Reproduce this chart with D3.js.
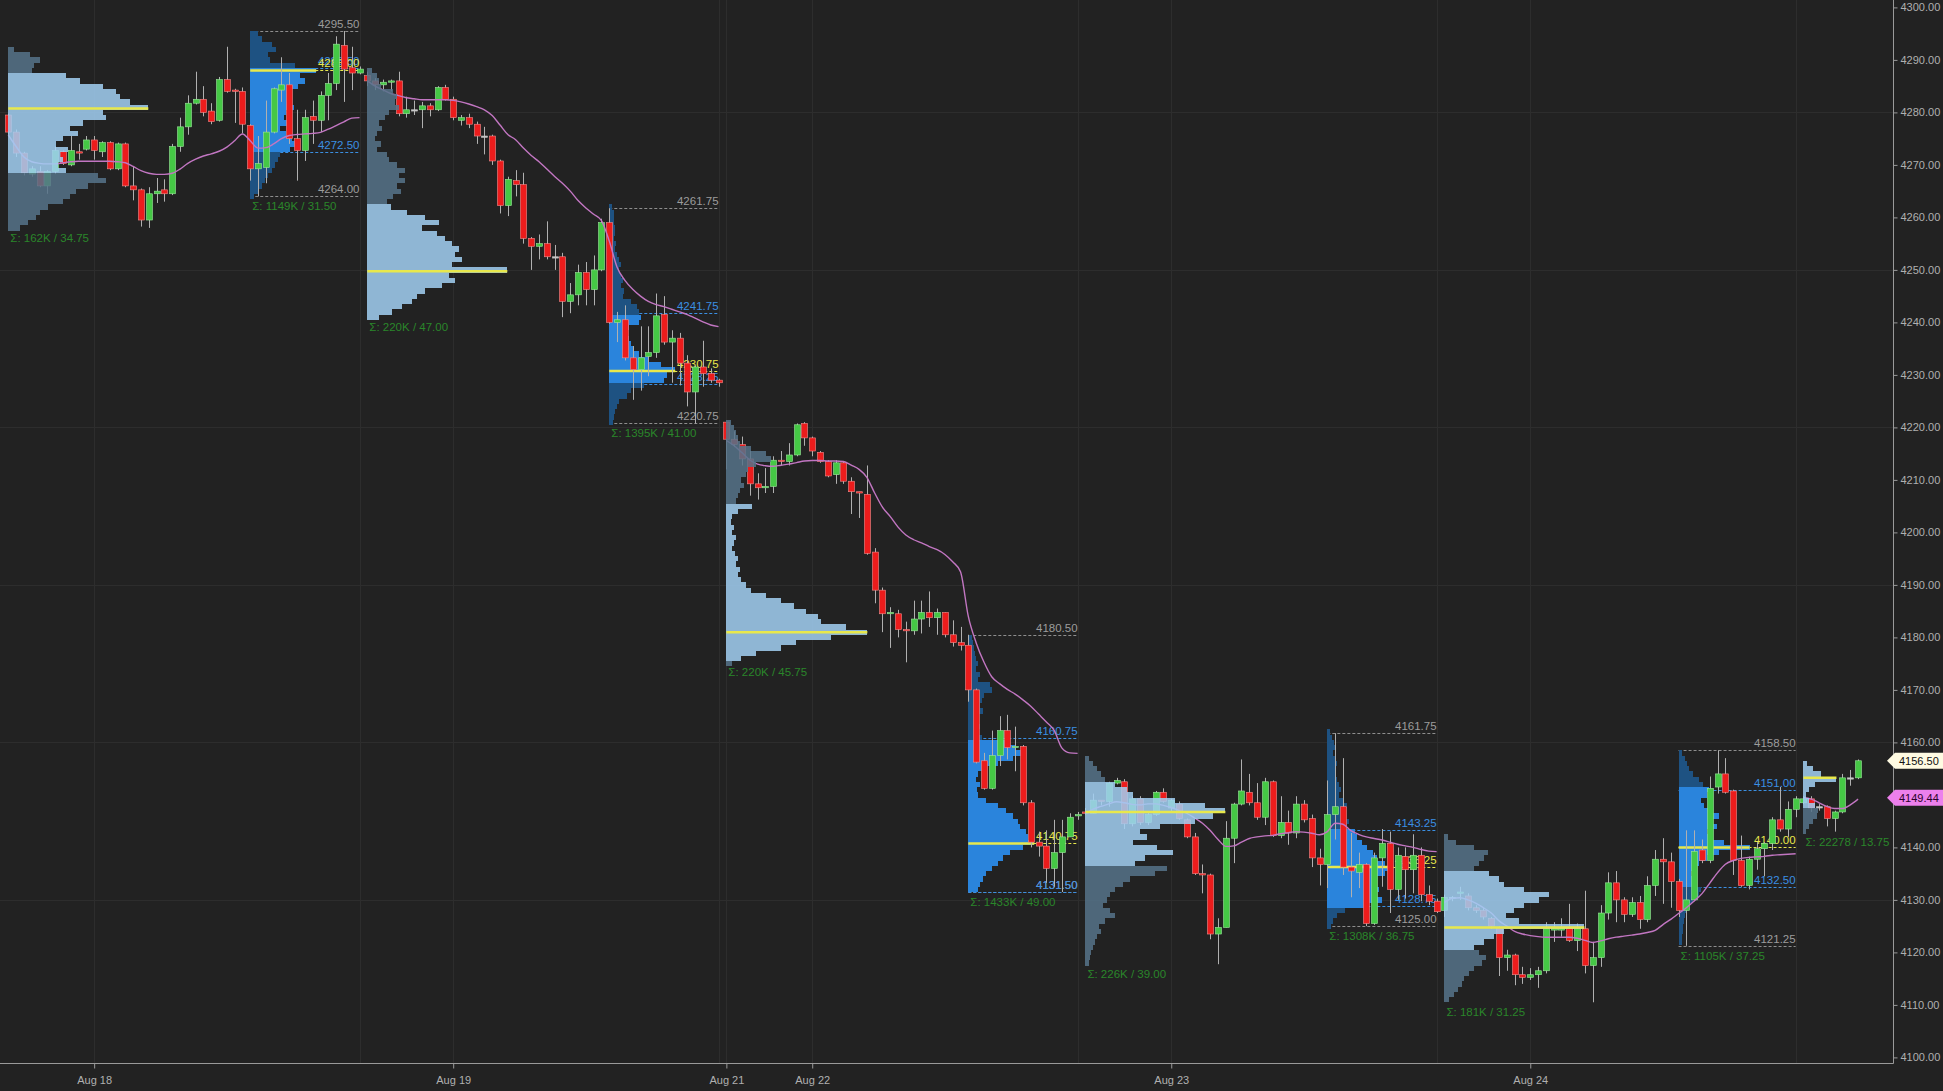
<!DOCTYPE html>
<html>
<head>
<meta charset="utf-8">
<script src="https://cdn.jsdelivr.net/npm/d3@7"></script>
<style>
html,body{margin:0;padding:0;background:#222222;overflow:hidden;}
svg{display:block;}
text{font-family:"Liberation Sans",Arial,Helvetica,sans-serif;}
</style>
</head>
<body>
<svg id="chart" width="1943" height="1091"></svg>
<script>
// ================= DATA =================
// candles per session: [open, high, low, close] (30-minute bars)
const candlesON1 = [
[4279.5,4279.75,4275.75,4276.25],[4276.25,4276.75,4271.5,4272.25],[4272.25,4272.5,4268,4268.5],
[4268.25,4269.75,4267.75,4269.25],[4268.75,4269.75,4265.75,4266],[4266,4269,4264.5,4268.75],
[4268.75,4273.5,4268.25,4272.75],[4272.5,4272.75,4270,4270.25],[4270,4275.5,4269.75,4272.75],
[4272.5,4274,4271,4272.25],[4273,4275.5,4272.75,4274.75],[4274.75,4275.5,4271,4272.75],
[4272.5,4274.5,4271.5,4274.25],[4274.25,4274.5,4269,4269.25],[4269.25,4274.25,4269,4274],
[4274,4274.25,4265.75,4266],[4266,4269.75,4263.25,4265.25],[4265.25,4265.5,4258.25,4259.5],
[4259.5,4265.75,4258,4264.5],[4264.5,4267.5,4262.75,4265],[4265.25,4267.25,4263,4264.5],
[4264.5,4274,4264.25,4273.5],[4273.5,4279,4272.5,4277.25],[4277.25,4283.25,4275.75,4281.75],
[4281.75,4287.75,4281.5,4282.5],[4282.5,4285,4279.25,4280],[4280.25,4281.75,4277.75,4278.25],
[4278.5,4286.75,4278.25,4286.25],[4286.25,4292.5,4283.75,4284],[4284.25,4284.5,4278,4284],
[4284,4284.75,4276,4277.75]];
const candlesRTH1 = [
[4277.5,4277.75,4267,4269.25],[4269.25,4275.5,4264,4270.25],[4269.5,4282.25,4266.5,4276.25],
[4276.25,4284.75,4276,4284.5],[4284.25,4290.5,4282,4285.25],[4285.25,4287.5,4274,4275],
[4275,4280.5,4267,4272.75],[4272.75,4280.5,4270.75,4279],[4279.25,4282.25,4274,4278.5],
[4278.5,4284,4276.25,4283.25],[4283.25,4287.5,4278.5,4285.5],[4285.5,4294.5,4284.25,4293],
[4292.75,4295.5,4282,4288.25],[4288.5,4292.5,4284.25,4287.5],[4287.5,4288.75,4287.25,4288.25]];
const candlesON2 = [
[4287,4287.75,4285,4286],[4286,4286.5,4284.25,4285.25],[4285.25,4286.25,4284,4285.75],
[4285.75,4286.25,4284,4286],[4286,4287.75,4279.25,4279.75],[4279.75,4283,4279,4280.5],
[4280.5,4282.25,4279.5,4280.5],[4280.5,4282,4277,4281.25],[4281.25,4281.75,4279.25,4280.5],
[4280.5,4285,4280.25,4284.75],[4284.75,4285.25,4282.25,4282.5],[4282.5,4283,4278.5,4279],
[4278.5,4279.5,4277.5,4279],[4279,4279.75,4277,4277.75],[4277.75,4278.25,4274,4275.5],
[4275.5,4277.25,4272,4275.5],[4275.5,4275.75,4270,4270.75],[4270.75,4271,4260.75,4262.25],
[4262.25,4267.75,4260.25,4267.25],[4267,4269,4264,4266.25],[4266.25,4268.5,4255,4256],
[4256,4256.25,4250,4254.5],[4254.5,4256.75,4252,4255],[4255,4259.25,4252,4252.5],
[4252.5,4254.75,4250,4252.5],[4252.5,4253.25,4241,4244],[4244,4247.5,4241.75,4245.25],
[4245.25,4251,4243.25,4249.5],[4249.5,4251.5,4243.25,4246.25],[4246.25,4252.75,4243.25,4250],
[4250,4259.75,4249.75,4259]];
const candlesRTH2 = [
[4259,4261.75,4239.75,4240],[4240,4242,4236.25,4240.5],[4240.5,4243.25,4232.75,4233.25],
[4233.25,4235.5,4225.25,4231],[4231,4239.25,4227,4233.25],[4233.5,4239.25,4229.75,4234.25],
[4234.25,4245.5,4233.25,4241.25],[4241.5,4245,4235.75,4236.25],[4236.25,4238.5,4228.5,4237],
[4237,4238,4228,4232.25],[4232.25,4233.75,4224,4226.75],[4226.75,4231.75,4220.75,4231.5],
[4231.5,4236.5,4227.75,4230.25],[4230.25,4231.25,4228.5,4229],[4229,4229.25,4227.75,4228.5]];
const candlesON3 = [
[4221,4221,4212,4217.75],[4217.75,4219.25,4216.25,4216.75],[4216.75,4218.25,4212.75,4214],
[4214,4215.5,4207,4209.25],[4209.25,4211.25,4206.25,4208.5],[4208.5,4212.25,4207.5,4208.75],
[4208.75,4214.5,4207.5,4213.75],[4213.75,4215.5,4212.75,4213.5],[4213.5,4217,4212.75,4214.75],
[4214.75,4220.75,4214.5,4220.5],[4220.75,4221,4216.5,4218],[4218,4218.25,4214.5,4215.5],
[4215.25,4215.5,4213.25,4213.5],[4213.5,4213.75,4210.5,4210.75],[4211,4213.75,4209.25,4213.25],
[4213.25,4213.5,4209.25,4209.75],[4209.75,4210.5,4203.5,4207.75],[4207.75,4207.75,4202.75,4207.5],
[4207.25,4212.75,4195.75,4196],[4196.25,4197,4186.5,4189],[4189,4189.5,4181,4184.5],
[4184.5,4185.75,4178,4184.75],[4184.5,4185.25,4180,4181.5],[4181.5,4183,4175.25,4181.25],
[4181.25,4187,4180.5,4183.5],[4183.5,4187,4180.75,4184.75],[4184.75,4188.75,4182,4183.75],
[4183.75,4185.5,4180.5,4184.75],[4184.75,4184.75,4180,4180.5],[4180.5,4183.25,4178.25,4179],
[4179,4182,4177.5,4178.5]];
const candlesRTH3 = [
[4178.5,4180.5,4167.75,4170],[4170,4170.25,4156,4156.25],[4156.5,4158,4151,4151.25],
[4151.25,4162.25,4151,4157.5],[4157.5,4165,4155.5,4162.25],[4162.25,4165.25,4156.75,4159],
[4159,4163,4154.5,4159.25],[4159.25,4159.5,4148,4148.5],[4148.5,4149,4140,4141],
[4141,4143,4138.25,4140.25],[4140.25,4143.25,4133.25,4136],[4136,4145.25,4132.5,4139],
[4139,4145.25,4131.5,4142],[4142,4146.5,4142,4145.75],[4146,4146.75,4145.25,4146.25]];
const candlesON4 = [
[4146.75,4147.5,4146.25,4146.5],[4146.5,4150.25,4146.5,4149],[4149,4149,4148,4148.75],
[4148.75,4152.5,4147.75,4152.25],[4152.25,4153.25,4152,4152.75],[4152.5,4153,4143.5,4144.5],
[4144.5,4149.75,4144,4149.25],[4149.25,4149.75,4144.25,4144.75],[4144.75,4146.75,4144.25,4146.25],
[4146.25,4150.75,4146,4150.5],[4150.5,4151.25,4148.5,4148.75],[4147.5,4149.25,4146.75,4149],
[4148.25,4148.75,4145.25,4145.5],[4145.25,4145.5,4141.75,4142],[4142,4142.75,4134.75,4135],
[4135,4136.75,4131.25,4134.75],[4134.75,4135,4122.5,4123.5],[4123.5,4126.5,4117.75,4124.75],
[4124.75,4145,4124.75,4141.75],[4141.75,4148.5,4137,4148.25],[4148.25,4156.75,4148,4150.75],
[4150.5,4154,4148,4148.5],[4148.5,4152.25,4145.25,4145.75],[4145.75,4153.25,4144.25,4152.5],
[4152.5,4152.75,4142,4142.25],[4142.25,4149.75,4141.75,4144.75],[4144.75,4147,4140.5,4142.75],
[4142.75,4149.75,4141.75,4148.25],[4148.25,4149,4144.75,4145.25],[4145.5,4146.25,4136.25,4138],
[4138,4139.75,4132.75,4136.75]];
const candlesRTH4 = [
[4136.75,4152.75,4132.25,4146.25],[4146.25,4161.75,4141.5,4147.75],[4147.75,4157,4134.75,4136.25],
[4136.25,4142.75,4130.5,4135.5],[4135.25,4139,4132.25,4136.75],[4136.75,4137,4125,4125.5],
[4125.5,4139,4125.25,4138],[4138,4143.5,4132.5,4140.75],[4140.75,4143,4127.5,4132],
[4132,4140,4130,4138.5],[4138.25,4140,4130.25,4135.75],[4135.75,4142.5,4131.25,4138.5],
[4138.5,4140,4129.75,4131],[4131,4132.75,4129,4129.75],[4129.75,4130.25,4127.5,4127.75]];
const candlesON5 = [
[4128,4131,4126.75,4130.5],[4130.5,4130.75,4129.75,4130.5],[4131.25,4132.5,4130,4131.5],
[4130.75,4131.25,4128,4128.5],[4128.5,4129,4127.5,4128],[4128,4128.5,4126.25,4126.75],
[4126.5,4126.75,4124.5,4125],[4124.75,4125,4115.5,4119],[4119,4120.5,4116.5,4119.5],
[4119.5,4119.75,4113.75,4115.75],[4115.75,4117.25,4114,4115.25],[4115.25,4117,4114.75,4115.75],
[4115.75,4117.25,4113.25,4116.5],[4116.5,4125.75,4116,4124.5],[4124.25,4125.75,4122,4124.75],
[4124.25,4126.5,4123,4124.75],[4124.75,4129.25,4122,4122.25],[4122.25,4125.5,4120.25,4124.5],
[4124.5,4131.75,4116,4117.5],[4117.5,4122,4110.5,4119],[4119,4129,4117.25,4127.5],
[4127.5,4135.25,4126.25,4133.25],[4133.25,4135.5,4125.75,4130],[4130,4130.5,4125.75,4127.25],
[4127.25,4130.5,4126.75,4129.5],[4129.5,4130.75,4124.5,4126.25],[4126.25,4134.5,4125.75,4132.75],
[4132.75,4139.5,4130.75,4137.75],[4137.75,4141.75,4129.25,4137.25],[4137.25,4139,4128.5,4133.5]];
const candlesRTH5 = [
[4133.5,4134,4126.75,4128],[4128,4143.25,4121.25,4130],[4130,4143.25,4129.75,4139.25],
[4139.5,4141.5,4137,4137.5],[4137.5,4153.5,4137,4151.25],[4151.5,4158.5,4150.25,4154],
[4154,4157,4150.25,4150.5],[4150.75,4151,4134.75,4137.5],[4137.5,4142.25,4132.5,4132.75],
[4132.75,4138.25,4132,4137.75],[4137.75,4141,4135.75,4139.75],[4139.75,4141,4134.5,4140.75],
[4140.75,4145.75,4139.5,4145.25],[4145.25,4151.5,4143,4143.5],[4143.5,4148.75,4142,4147.25],
[4147.25,4149.75,4145.75,4149.25]];
const candlesON6 = [
[4148.5,4149.75,4148.25,4149.25],[4149.25,4149.75,4146.75,4147.5],[4147.75,4148.25,4147,4147.75],
[4147.75,4148,4144,4145.5],[4145.5,4147,4143,4146.75],[4146.75,4154,4146.5,4153.25],
[4153.25,4154.75,4151.75,4153.25],[4153.25,4156.75,4153,4156.5]];

const sessionTypes = ["ON","RTH","ON","RTH","ON","RTH","ON","RTH","ON","RTH","ON"];

// volume profile statistics per session
const profileHigh = [4292.75,4295.50,4288.00,4261.75,4221.00,4180.50,4156.75,4161.75,4141.75,4158.50,4156.75];
const profileLow  = [4258.00,4264.00,4241.00,4220.75,4175.25,4131.50,4117.75,4125.00,4110.50,4121.25,4143.00];
const profilePOC  = [4280.75,4288.00,4249.75,4230.75,4181.00,4140.75,4146.75,4136.25,4124.75,4140.00,4153.25];
const profileVAH  = [4287.50,4288.50,4262.50,4241.75,4205.50,4160.75,4152.50,4143.25,4135.00,4151.00,4156.75];
const profileVAL  = [4268.50,4272.50,4241.00,4228.25,4175.25,4131.50,4137.00,4128.75,4120.25,4132.50,4147.75];
const profileVolume = ["162K","1149K","220K","1395K","220K","1433K","226K","1308K","181K","1105K","22278"];

// profile rows: [price, relative volume]
const profON1 = [[4292,6],[4291,22],[4290,32],[4289,26],[4288,24],[4287,58],[4286,72],[4285,95],[4284,108],[4283,112],[4282,122],[4281,140],[4280,95],[4279,98],[4278,75],[4277,62],[4276,70],[4275,55],[4274,48],[4273,60],[4272,52],[4271,55],[4270,50],[4269,58],[4268,90],[4267,98],[4266,80],[4265,68],[4264,62],[4263,55],[4262,40],[4261,32],[4260,28],[4259,20],[4258,12]];
const profRTH1 = [[4295,8],[4294,12],[4293,22],[4292,26],[4291,18],[4290,20],[4289,45],[4288,66],[4287,50],[4286,55],[4285,48],[4284,42],[4283,40],[4282,38],[4281,44],[4280,36],[4279,34],[4278,38],[4277,30],[4276,36],[4275,42],[4274,46],[4273,40],[4272,30],[4271,28],[4270,25],[4269,22],[4268,18],[4267,15],[4266,12],[4265,8],[4264,4]];
const profON2 = [[4288,5],[4287,10],[4286,12],[4285,14],[4284,26],[4283,30],[4282,28],[4281,32],[4280,22],[4279,18],[4278,12],[4277,15],[4276,10],[4275,8],[4274,14],[4273,10],[4272,20],[4271,22],[4270,30],[4269,38],[4268,32],[4267,38],[4266,30],[4265,34],[4264,26],[4263,20],[4262,24],[4261,40],[4260,58],[4259,72],[4258,55],[4257,70],[4256,78],[4255,85],[4254,92],[4253,88],[4252,95],[4251,85],[4250,140],[4249,82],[4248,88],[4247,75],[4246,58],[4245,50],[4244,45],[4243,35],[4242,25],[4241,12]];
const profRTH2 = [[4262,3],[4261,5],[4260,5],[4259,5],[4258,6],[4257,6],[4256,5],[4255,7],[4254,6],[4253,8],[4252,10],[4251,12],[4250,10],[4249,12],[4248,14],[4247,12],[4246,15],[4245,14],[4244,22],[4243,28],[4242,30],[4241,32],[4240,30],[4239,20],[4238,15],[4237,20],[4236,22],[4235,25],[4234,30],[4233,40],[4232,52],[4231,66],[4230,58],[4229,55],[4228,35],[4227,22],[4226,18],[4225,10],[4224,8],[4223,6],[4222,5],[4221,4]];
const profON3 = [[4221,5],[4220,8],[4219,10],[4218,12],[4217,14],[4216,25],[4215,40],[4214,45],[4213,30],[4212,22],[4211,20],[4210,15],[4209,18],[4208,14],[4207,12],[4206,10],[4205,26],[4204,12],[4203,6],[4202,5],[4201,8],[4200,6],[4199,10],[4198,8],[4197,6],[4196,9],[4195,12],[4194,10],[4193,14],[4192,12],[4191,15],[4190,20],[4189,25],[4188,40],[4187,55],[4186,68],[4185,80],[4184,92],[4183,95],[4182,120],[4181,141],[4180,105],[4179,70],[4178,55],[4177,30],[4176,15],[4175,6]];
const profRTH3 = [[4180,4],[4179,5],[4178,6],[4177,7],[4176,8],[4175,10],[4174,8],[4173,12],[4172,10],[4171,22],[4170,24],[4169,16],[4168,14],[4167,12],[4166,15],[4165,10],[4164,9],[4163,12],[4162,10],[4161,14],[4160,40],[4159,48],[4158,55],[4157,45],[4156,30],[4155,14],[4154,10],[4153,8],[4152,12],[4151,9],[4150,10],[4149,18],[4148,30],[4147,38],[4146,45],[4145,50],[4144,52],[4143,58],[4142,60],[4141,66],[4140,55],[4139,42],[4138,35],[4137,30],[4136,24],[4135,18],[4134,15],[4133,12],[4132,10]];
const profON4 = [[4157,4],[4156,8],[4155,12],[4154,16],[4153,20],[4152,30],[4151,42],[4150,48],[4149,90],[4148,120],[4147,140],[4146,128],[4145,110],[4144,75],[4143,55],[4142,62],[4141,48],[4140,72],[4139,88],[4138,60],[4137,50],[4136,82],[4135,70],[4134,45],[4133,38],[4132,30],[4131,25],[4130,22],[4129,18],[4128,25],[4127,30],[4126,20],[4125,14],[4124,16],[4123,12],[4122,10],[4121,8],[4120,6],[4119,5],[4118,4]];
const profRTH4 = [[4162,3],[4161,5],[4160,7],[4159,8],[4158,6],[4157,8],[4156,10],[4155,9],[4154,8],[4153,10],[4152,12],[4151,14],[4150,12],[4149,16],[4148,20],[4147,15],[4146,18],[4145,22],[4144,20],[4143,28],[4142,30],[4141,35],[4140,40],[4139,46],[4138,50],[4137,58],[4136,66],[4135,58],[4134,50],[4133,48],[4132,52],[4131,45],[4130,55],[4129,40],[4128,18],[4127,10],[4126,6],[4125,4]];
const profON5 = [[4142,4],[4141,12],[4140,30],[4139,44],[4138,40],[4137,35],[4136,30],[4135,45],[4134,55],[4133,60],[4132,80],[4131,105],[4130,95],[4129,80],[4128,70],[4127,62],[4126,75],[4125,140],[4124,60],[4123,50],[4122,40],[4121,30],[4120,35],[4119,42],[4118,38],[4117,30],[4116,25],[4115,20],[4114,18],[4113,14],[4112,10],[4111,5]];
const profRTH5 = [[4158,3],[4157,6],[4156,8],[4155,10],[4154,14],[4153,20],[4152,24],[4151,30],[4150,28],[4149,22],[4148,25],[4147,32],[4146,40],[4145,30],[4144,38],[4143,28],[4142,32],[4141,45],[4140,71],[4139,40],[4138,28],[4137,20],[4136,14],[4135,12],[4134,14],[4133,16],[4132,22],[4131,20],[4130,14],[4129,10],[4128,8],[4127,6],[4126,5],[4125,4],[4124,4],[4123,3],[4122,3]];
const profON6 = [[4156,4],[4155,10],[4154,18],[4153,33],[4152,12],[4151,6],[4150,3],[4149,6],[4148,12],[4147,15],[4146,14],[4145,10],[4144,6],[4143,3]];

// daily VWAP (one value per bar, resets each trading day)
const vwapDay1 = [4275.7,4273.5,4271.5,4270.6,4270.3,4270.2,4270.2,4270.4,4270.6,4270.7,4270.7,4270.7,4270.7,4270.7,4270.6,4270.4,4269.7,4268.9,4268.4,4268.2,4268.2,4268.4,4269.2,4270.3,4271.1,4271.7,4272.1,4272.6,4273.4,4274.6,4275.9,4274.6,4273.2,4273.3,4274.0,4275.0,4275.6,4275.8,4275.9,4276.0,4276.2,4276.8,4277.5,4278.2,4278.9,4279.0];
const vwapDay2 = [4286.0,4285.0,4284.3,4283.6,4283.2,4282.8,4282.6,4282.4,4282.4,4282.4,4282.4,4282.3,4282.0,4281.6,4281.1,4280.5,4279.4,4277.6,4275.8,4274.8,4273.2,4271.8,4270.6,4269.2,4267.8,4266.5,4265.0,4263.2,4261.8,4260.6,4259.4,4255.5,4250.5,4248.0,4246.3,4245.0,4244.0,4243.4,4243.0,4242.5,4242.0,4241.5,4240.8,4240.1,4239.5,4239.2];
const vwapDay3 = [4217.5,4216.5,4215.2,4213.8,4213.0,4212.7,4212.6,4212.8,4213.0,4213.3,4213.6,4213.7,4213.7,4213.6,4213.6,4213.5,4212.8,4212.0,4210.5,4207.5,4204.8,4203.0,4201.0,4199.5,4198.6,4198.0,4197.3,4196.7,4195.8,4194.4,4192.5,4184.0,4179.0,4175.3,4172.5,4171.2,4170.1,4169.2,4168.1,4166.9,4165.4,4163.9,4162.3,4158.9,4158.0,4157.9];
const vwapDay4 = [4146.5,4147.3,4147.8,4148.3,4148.7,4148.5,4148.2,4148.1,4148.3,4148.3,4148.0,4147.6,4147.0,4146.5,4145.6,4144.6,4143.2,4141.5,4140.2,4140.3,4141.0,4141.7,4142.0,4142.2,4142.3,4142.6,4142.8,4143.0,4142.9,4142.7,4142.4,4143.0,4144.6,4144.4,4143.2,4142.5,4142.0,4141.7,4141.4,4141.0,4140.6,4140.3,4140.0,4139.6,4139.3,4139.2];
const vwapDay5 = [4129.5,4130.3,4130.4,4130.0,4129.4,4128.5,4127.5,4126.0,4125.0,4124.0,4123.5,4123.2,4123.0,4122.9,4122.9,4122.9,4122.9,4122.7,4122.3,4121.9,4122.2,4122.6,4122.9,4123.1,4123.3,4123.5,4123.8,4124.2,4125.3,4126.3,4127.4,4128.5,4129.8,4131.2,4133.2,4135.2,4136.8,4137.5,4137.9,4138.1,4138.2,4138.3,4138.5,4138.6,4138.7,4138.8];
const vwapDay6 = [4149.5,4149.2,4148.5,4147.8,4147.4,4147.4,4148.1,4149.2];

// axis ticks / labels
const dateTickBars = [11,57,92,103,149,195];
const dateTickLabels = ["Aug 18","Aug 19","Aug 21","Aug 22","Aug 23","Aug 24"];
const priceTickValues = [4100,4110,4120,4130,4140,4150,4160,4170,4180,4190,4200,4210,4220,4230,4240,4250,4260,4270,4280,4290,4300];
const gridPrices = [4280,4250,4220,4190,4160,4130];
const gridBars = [45,91,137,183,229];
const lastPrice = 4156.50;
const lastVwap = 4149.44;

// ================= STYLE / LAYOUT =================
const W = 1943, H = 1091, plotR = 1893, plotB = 1063;
const profileMaxWidth = [140,66,140,66,141,66,140,66,140,71,33];
const C = {
  bg:"#222222", grid:"#2d2d2d", axis:"#9a9a9a", axisText:"#b0b0b0",
  up:"#45c845", down:"#ec1c1c", doji:"#c8c8c8", wick:"#b0b0b0",
  onVA:"#a2d0f4", onOut:"#56748a", rthVA:"#2a84dc", rthOut:"#1e5282",
  poc:"#e8e84c", va:"#3b8fe2", hl:"#8e8e8e", hlText:"#9c9c9c", sum:"#2a862a",
  vwap:"#c276c2"
};

const svg = d3.select("#chart");
svg.append("rect").attr("width",W).attr("height",H).attr("fill",C.bg);

// build bars and sessions
const sessionCandles = [candlesON1,candlesRTH1,candlesON2,candlesRTH2,candlesON3,candlesRTH3,candlesON4,candlesRTH4,candlesON5,candlesRTH5,candlesON6];
const profileRows = [profON1,profRTH1,profON2,profRTH2,profON3,profRTH3,profON4,profRTH4,profON5,profRTH5,profON6];
const bars = [], sessions = [];
let idx = 0;
sessionCandles.forEach(arr => {
  sessions.push({start: idx, end: idx + arr.length - 1});
  arr.forEach(d => { bars.push({i: idx, o: d[0], h: d[1], l: d[2], c: d[3]}); idx++; });
});
const lastIdx = idx - 1;

const x = d3.scaleLinear().domain([0, lastIdx]).range([8.3, 8.3 + lastIdx * 7.805]);
const y = d3.scaleLinear().domain([4100, 4300]).range([1057.4, 7.4]);
const px = v => Math.round(v) + 0.5;

// ---- grid ----
const grid = svg.append("g");
grid.selectAll("line.h").data(gridPrices).join("line")
  .attr("x1",0).attr("x2",plotR).attr("y1",d=>px(y(d))).attr("y2",d=>px(y(d)))
  .attr("stroke",C.grid);
grid.selectAll("line.v").data(gridBars.concat(dateTickBars)).join("line")
  .attr("x1",d=>px(x(d))).attr("x2",d=>px(x(d))).attr("y1",0).attr("y2",plotB)
  .attr("stroke",C.grid);

// ---- profile helpers ----
function profileRects(layer, k, pal) {
  const rows = profileRows[k];
  const x0 = x(sessions[k].start);
  const wS = d3.scaleLinear().domain([0, d3.max(rows, r => r[1])]).range([0, profileMaxWidth[k]]);
  layer.selectAll(null).data(rows).join("rect")
    .attr("x", Math.round(x0)).attr("y", r => Math.round(y(r[0] + 0.5)))
    .attr("width", r => Math.round(wS(r[1])))
    .attr("height", r => Math.round(y(r[0] - 0.5)) - Math.round(y(r[0] + 0.5)))
    .attr("shape-rendering", "crispEdges")
    .attr("fill", r => (r[0] <= profileVAH[k] && r[0] >= profileVAL[k]) ? pal.va : pal.out);
}

// ---- RTH profiles (under candles) ----
const rthLayer = svg.append("g");
sessionTypes.forEach((t, k) => {
  if (t !== "RTH") return;
  const s = sessions[k];
  const x0 = x(s.start), xe = x(s.end);
  const g = rthLayer.append("g");
  const levels = [
    {v: profileHigh[k], stroke: C.hl, fill: C.hlText},
    {v: profileLow[k], stroke: C.hl, fill: C.hlText},
    {v: profileVAH[k], stroke: C.va, fill: C.va},
    {v: profileVAL[k], stroke: C.va, fill: C.va},
    {v: profilePOC[k], stroke: C.poc, fill: C.poc}
  ];
  g.selectAll("line.lvl").data(levels).join("line")
    .attr("x1", x0).attr("x2", xe)
    .attr("y1", d => px(y(d.v))).attr("y2", d => px(y(d.v)))
    .attr("stroke", d => d.stroke).attr("stroke-width", 1).attr("stroke-dasharray", "3,2");
  profileRects(g.append("g"), k, {va: C.rthVA, out: C.rthOut});
  g.append("line").attr("x1", x0).attr("x2", x0 + profileMaxWidth[k])
    .attr("y1", y(profilePOC[k])).attr("y2", y(profilePOC[k]))
    .attr("stroke", C.poc).attr("stroke-width", 2.5);
  g.selectAll("text.lvl").data(levels).join("text")
    .attr("x", xe).attr("y", d => y(d.v) - 3)
    .attr("text-anchor", "end").attr("font-size", 11.5)
    .attr("fill", d => d.fill).text(d => d.v.toFixed(2));
});

// ---- candles ----
const cg = svg.append("g");
cg.selectAll("line").data(bars).join("line")
  .attr("x1", d => px(x(d.i))).attr("x2", d => px(x(d.i)))
  .attr("y1", d => y(d.h)).attr("y2", d => y(d.l))
  .attr("stroke", C.wick).attr("stroke-width", 1);
cg.selectAll("rect").data(bars).join("rect")
  .attr("x", d => Math.round(x(d.i)) - 2.5).attr("width", 6)
  .attr("y", d => y(Math.max(d.o, d.c)))
  .attr("height", d => Math.max(1.3, Math.abs(y(d.o) - y(d.c))))
  .attr("fill", d => d.c > d.o ? C.up : (d.c < d.o ? C.down : C.doji))
  .attr("stroke", d => d.c > d.o ? "#9be89b" : (d.c < d.o ? "#f58a8a" : C.doji))
  .attr("stroke-width", 0.6);

// ---- VWAP ----
const vwapDays = [vwapDay1, vwapDay2, vwapDay3, vwapDay4, vwapDay5, vwapDay6];
const vwapStartBars = [0, 46, 92, 138, 184, 230];
const vLine = d3.line().x(d => x(d[0])).y(d => y(d[1])).curve(d3.curveMonotoneX);
svg.append("g").selectAll("path").data(vwapDays.map((arr, j) => arr.map((v, i) => [vwapStartBars[j] + i, v])))
  .join("path").attr("d", vLine).attr("fill", "none")
  .attr("stroke", C.vwap).attr("stroke-width", 1.4);

// ---- ON profiles (over candles, semi-transparent) ----
const onLayer = svg.append("g");
sessionTypes.forEach((t, k) => {
  if (t !== "ON") return;
  const x0 = x(sessions[k].start);
  const g = onLayer.append("g").attr("opacity", 0.85);
  profileRects(g, k, {va: C.onVA, out: C.onOut});
  onLayer.append("line").attr("x1", x0).attr("x2", x0 + profileMaxWidth[k])
    .attr("y1", y(profilePOC[k])).attr("y2", y(profilePOC[k]))
    .attr("stroke", C.poc).attr("stroke-width", 2.5);
});

// ---- sum labels ----
svg.append("g").selectAll("text").data(sessions).join("text")
  .attr("x", (s) => x(s.start) + 2)
  .attr("y", (s, k) => y(profileLow[k]) + 14)
  .attr("font-size", 11.5).attr("fill", C.sum)
  .text((s, k) => "\u03A3: " + profileVolume[k] + " / " + (profileHigh[k] - profileLow[k]).toFixed(2));

// ---- axes ----
const yAxis = d3.axisRight(y).tickValues(priceTickValues).tickFormat(d3.format(".2f")).tickSize(4).tickPadding(3);
svg.append("g").attr("transform", `translate(${plotR + 0.5},0)`).call(yAxis)
  .call(g => g.select(".domain").remove())
  .call(g => g.selectAll("line").attr("stroke", C.axis))
  .call(g => g.selectAll("text").attr("fill", C.axisText).attr("font-size", 11)
    .attr("font-family", '"Liberation Sans",Arial,sans-serif'));
const xAxis = d3.axisBottom(x).tickValues(dateTickBars).tickFormat((d, i) => dateTickLabels[i]).tickSize(5).tickPadding(8);
svg.append("g").attr("transform", `translate(0,${plotB + 0.5})`).call(xAxis)
  .call(g => g.select(".domain").remove())
  .call(g => g.selectAll("line").attr("stroke", C.axis))
  .call(g => g.selectAll("text").attr("fill", C.axisText).attr("font-size", 11)
    .attr("font-family", '"Liberation Sans",Arial,sans-serif'));
svg.append("line").attr("x1", plotR + 0.5).attr("x2", plotR + 0.5).attr("y1", 0).attr("y2", plotB + 0.5)
  .attr("stroke", C.axis);
svg.append("line").attr("x1", 0).attr("x2", plotR + 0.5).attr("y1", plotB + 0.5).attr("y2", plotB + 0.5)
  .attr("stroke", C.axis);

// ---- price tags ----
function tag(v, fill, txt) {
  const yy = y(v);
  const g = svg.append("g");
  g.append("polygon")
    .attr("points", [[1887, yy], [1895, yy - 8], [1943, yy - 8], [1943, yy + 8], [1895, yy + 8]].map(p => p.join(",")).join(" "))
    .attr("fill", fill);
  g.append("text").attr("x", 1899).attr("y", yy + 4).attr("font-size", 11).attr("fill", txt).text(v.toFixed(2));
}
tag(lastPrice, "#fffbe2", "#111111");
tag(lastVwap, "#ec80ec", "#2a002a");
</script>
</body>
</html>
